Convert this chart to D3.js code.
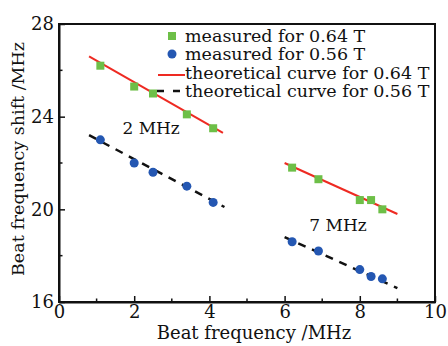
<!DOCTYPE html>
<html>
<head>
<meta charset="utf-8">
<script src="https://cdn.jsdelivr.net/npm/d3@7"></script>
<style>
  html, body { margin: 0; padding: 0; background: #fff; }
  text { font-family: "DejaVu Serif", serif; fill: #111; }
</style>
</head>
<body>
<div id="chart"></div>
<script>
// beat frequency (MHz) of the measured points, both field strengths share them
const beatFreq = [1.1, 2.0, 2.5, 3.4, 4.1, 6.2, 6.9, 8.0, 8.3, 8.6]
const shift064 = [26.2, 25.3, 25.0, 24.1, 23.5, 21.8, 21.3, 20.4, 20.4, 20.0]
const shift056 = [23.0, 22.0, 21.6, 21.0, 20.3, 18.6, 18.2, 17.4, 17.1, 17.0]

// theoretical curves, one segment per beat-frequency group
const theory064 = [[[0.8, 26.6], [4.36, 23.3]], [[6.0, 22.0], [9.0, 19.8]]]
const theory056 = [[[0.8, 23.2], [4.4, 20.1]], [[6.0, 18.8], [9.0, 16.6]]]

const xTicks = [0, 2, 4, 6, 8, 10]
const xMinor = [1, 3, 5, 7, 9]
const yTicks = [16, 20, 24, 28]
const yMinor = [18, 22, 26]
const groupLabels = [{ text: "2 MHz", x: 2.45, y: 23.5 }, { text: "7 MHz", x: 7.42, y: 19.33 }]
const legendItems = [
  { label: "measured for 0.64 T", type: "square" },
  { label: "measured for 0.56 T", type: "circle" },
  { label: "theoretical curve for 0.64 T", type: "solid" },
  { label: "theoretical curve for 0.56 T", type: "dash" }
]

const W = 448, H = 346
const margin = { top: 24, right: 13, bottom: 44, left: 59 }
const green = "#6dbf47", blue = "#2457b2", red = "#ee2a22"

const svg = d3.select("#chart").append("svg")
  .attr("width", W).attr("height", H)

const x = d3.scaleLinear().domain([0, 10]).range([margin.left, W - margin.right])
const y = d3.scaleLinear().domain([16, 28]).range([H - margin.bottom, margin.top])

// frame
svg.append("rect")
  .attr("x", x(0)).attr("y", y(28))
  .attr("width", x(10) - x(0)).attr("height", y(16) - y(28))
  .attr("fill", "none").attr("stroke", "#111").attr("stroke-width", 2)

// axes, ticks pointing inward
const xAxis = d3.axisBottom(x).tickValues(xTicks).tickSizeInner(-6).tickSizeOuter(0).tickPadding(3)
const gx = svg.append("g").attr("transform", "translate(0," + y(16) + ")").call(xAxis)
gx.selectAll(".tick line").attr("stroke", "#111").attr("stroke-width", 1.5)
gx.select(".domain").attr("stroke", "#111").attr("stroke-width", 2)
gx.selectAll("text").attr("font-size", 18).attr("font-family", "DejaVu Serif").attr("fill", "#111")
gx.selectAll(".minor").data(xMinor).enter().append("line")
  .attr("x1", d => x(d)).attr("x2", d => x(d)).attr("y1", 0).attr("y2", -3.5)
  .attr("stroke", "#111").attr("stroke-width", 1.5)

const yAxis = d3.axisLeft(y).tickValues(yTicks).tickSizeInner(-6).tickSizeOuter(0).tickPadding(5)
const gy = svg.append("g").attr("transform", "translate(" + x(0) + ",0)").call(yAxis)
gy.selectAll(".tick line").attr("stroke", "#111").attr("stroke-width", 1.5)
gy.select(".domain").attr("stroke", "#111").attr("stroke-width", 2)
gy.selectAll("text").attr("font-size", 18).attr("font-family", "DejaVu Serif").attr("fill", "#111")
gy.selectAll(".minor").data(yMinor).enter().append("line")
  .attr("y1", d => y(d)).attr("y2", d => y(d)).attr("x1", 0).attr("x2", 3.5)
  .attr("stroke", "#111").attr("stroke-width", 1.5)

// axis titles
svg.append("text")
  .attr("x", (x(0) + x(10)) / 2 + 7).attr("y", 339)
  .attr("text-anchor", "middle").attr("font-size", 18)
  .text("Beat frequency /MHz")
svg.append("text")
  .attr("transform", "translate(24," + (y(22) - 4) + ") rotate(-90)")
  .attr("text-anchor", "middle").attr("font-size", 17.5)
  .text("Beat frequency shift /MHz")

// theory lines
const line = d3.line().x(d => x(d[0])).y(d => y(d[1]))
svg.selectAll(".t064").data(theory064).enter().append("path")
  .attr("d", line).attr("fill", "none").attr("stroke", red).attr("stroke-width", 2)
svg.selectAll(".t056").data(theory056).enter().append("path")
  .attr("d", line).attr("fill", "none").attr("stroke", "#111").attr("stroke-width", 2.5)
  .attr("stroke-dasharray", "8,7")

// measured points
const pts064 = beatFreq.map((f, i) => [f, shift064[i]])
const pts056 = beatFreq.map((f, i) => [f, shift056[i]])
svg.selectAll(".sq").data(pts064).enter().append("rect")
  .attr("x", d => x(d[0]) - 4).attr("y", d => y(d[1]) - 4)
  .attr("width", 8).attr("height", 8).attr("fill", green)
svg.selectAll(".ci").data(pts056).enter().append("circle")
  .attr("cx", d => x(d[0])).attr("cy", d => y(d[1])).attr("r", 4.5).attr("fill", blue)

// group labels
svg.selectAll(".glabel").data(groupLabels).enter().append("text")
  .attr("x", d => x(d.x)).attr("y", d => y(d.y)).attr("dy", "0.35em")
  .attr("text-anchor", "middle").attr("font-size", 17)
  .text(d => d.text)

// legend
const legend = svg.append("g")
const rowY = [36, 54, 73, 91]
legendItems.forEach((item, i) => {
  const g = legend.append("g").attr("transform", "translate(0," + rowY[i] + ")")
  if (item.type === "square") {
    g.append("rect").attr("x", 168).attr("y", -4).attr("width", 8).attr("height", 8).attr("fill", green)
  } else if (item.type === "circle") {
    g.append("circle").attr("cx", 172).attr("cy", 0).attr("r", 4.5).attr("fill", blue)
  } else if (item.type === "solid") {
    g.append("line").attr("x1", 158).attr("x2", 185).attr("y1", 2).attr("y2", 2)
      .attr("stroke", red).attr("stroke-width", 2)
  } else {
    g.append("line").attr("x1", 157).attr("x2", 185).attr("y1", 0).attr("y2", 0)
      .attr("stroke", "#111").attr("stroke-width", 2.5).attr("stroke-dasharray", "7,9")
  }
  g.append("text").attr("x", 185).attr("dy", "0.35em").attr("font-size", 17.5).text(item.label)
})
</script>
</body>
</html>
